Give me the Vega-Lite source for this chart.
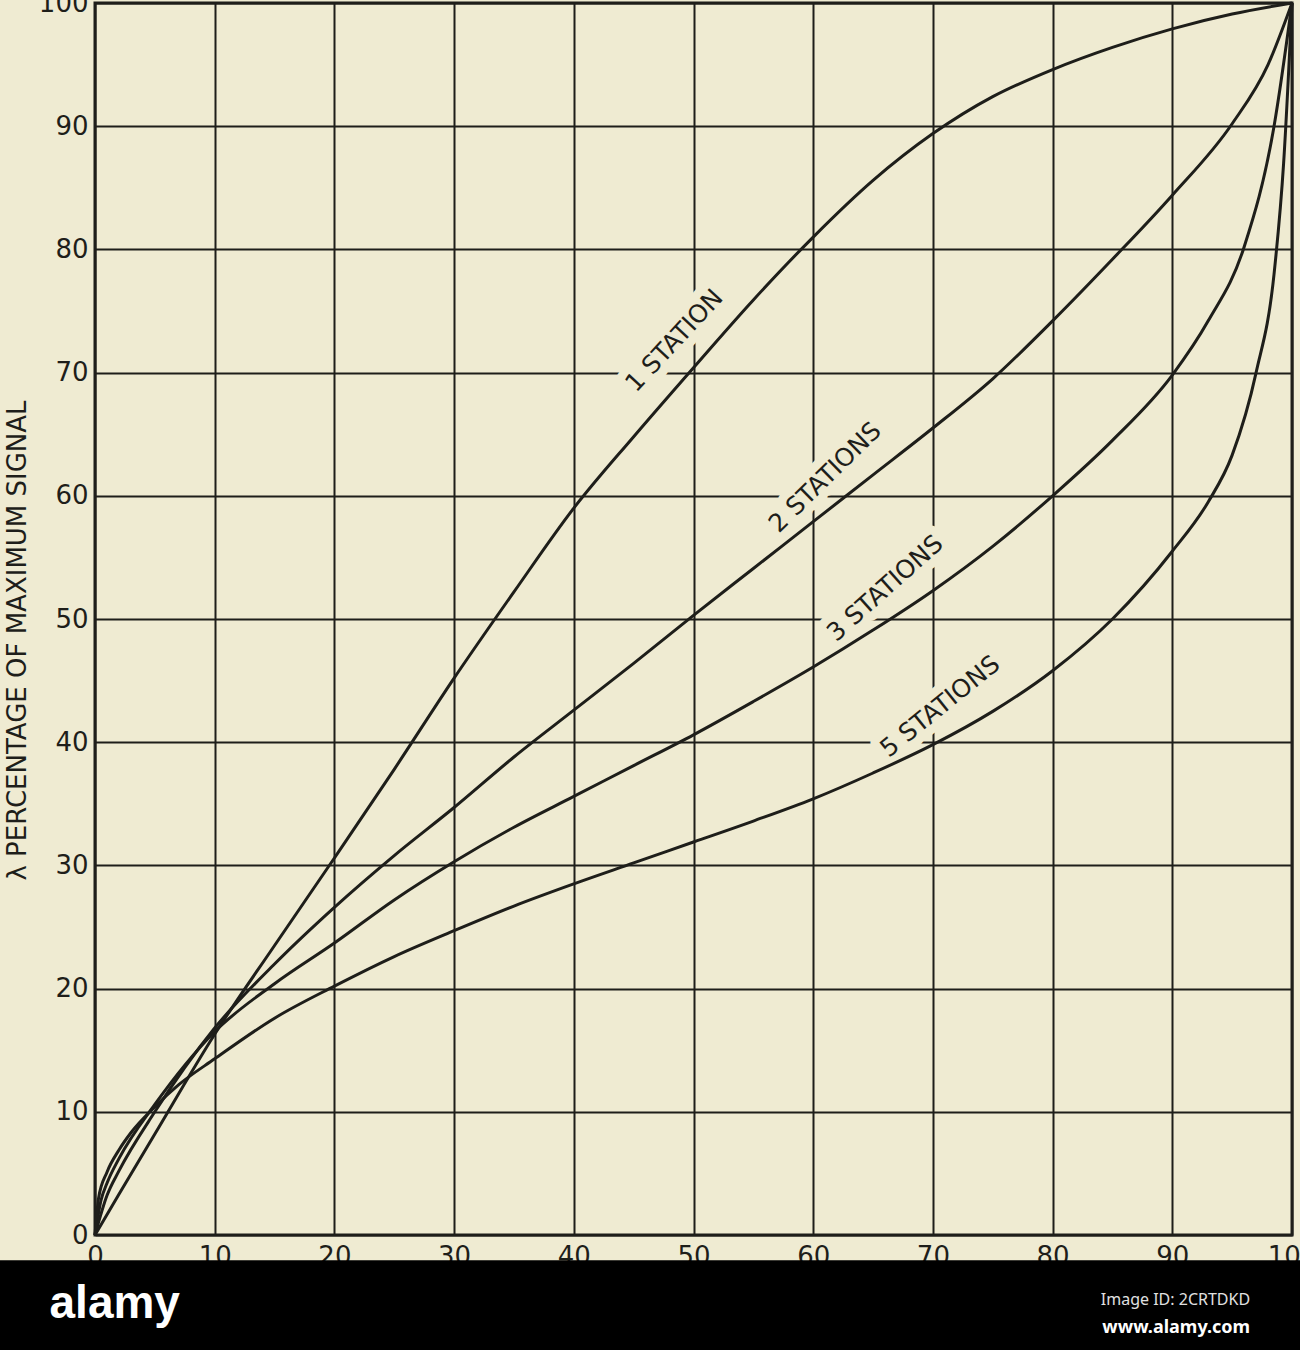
{
  "$schema": "https://vega.github.io/schema/vega-lite/v6.json",
  "width": 1197,
  "height": 1232,
  "autosize": {"type": "none"},
  "padding": {"left": 95, "top": 3, "right": 8, "bottom": 115},
  "background": "#efebd2",
  "config": {
    "view": {"stroke": "#1e1e1a", "strokeWidth": 3},
    "axis": {
      "grid": true, "gridColor": "#1e1e1a", "gridWidth": 2, "gridOpacity": 1,
      "domain": false, "ticks": false,
      "labelFont": "DejaVu Sans", "labelFontSize": 26, "labelColor": "#1e1e1a",
      "labelPadding": 8, "labelFlush": false, "labelOverlap": false, "labelBound": false,
      "tickCount": 10,
      "titleFont": "DejaVu Sans", "titleFontSize": 26, "titleFontWeight": "normal", "titleColor": "#1e1e1a",
      "zindex": 0
    },
    "axisY": {"titleX": -78, "titleY": 637, "titleAngle": 270, "titleBaseline": "middle", "titleAlign": "center", "labelPadding": 7}
  },
  "datasets": {
    "curves": [
      {"station": "1 STATION", "x": 0, "y": 0},
      {"station": "1 STATION", "x": 2, "y": 3.3},
      {"station": "1 STATION", "x": 5, "y": 8.2},
      {"station": "1 STATION", "x": 10, "y": 16.3},
      {"station": "1 STATION", "x": 15, "y": 23.5},
      {"station": "1 STATION", "x": 20, "y": 30.6},
      {"station": "1 STATION", "x": 25, "y": 37.8},
      {"station": "1 STATION", "x": 30, "y": 45.2},
      {"station": "1 STATION", "x": 35, "y": 52.2},
      {"station": "1 STATION", "x": 40, "y": 59},
      {"station": "1 STATION", "x": 45, "y": 64.8},
      {"station": "1 STATION", "x": 50, "y": 70.4},
      {"station": "1 STATION", "x": 55, "y": 75.9},
      {"station": "1 STATION", "x": 60, "y": 81},
      {"station": "1 STATION", "x": 65, "y": 85.6},
      {"station": "1 STATION", "x": 70, "y": 89.4},
      {"station": "1 STATION", "x": 75, "y": 92.4},
      {"station": "1 STATION", "x": 80, "y": 94.6},
      {"station": "1 STATION", "x": 85, "y": 96.4},
      {"station": "1 STATION", "x": 90, "y": 97.9},
      {"station": "1 STATION", "x": 95, "y": 99.1},
      {"station": "1 STATION", "x": 100, "y": 100},
      {"station": "2 STATIONS", "x": 0, "y": 0},
      {"station": "2 STATIONS", "x": 1, "y": 3.2},
      {"station": "2 STATIONS", "x": 2, "y": 5.2},
      {"station": "2 STATIONS", "x": 5, "y": 10},
      {"station": "2 STATIONS", "x": 10, "y": 16.8},
      {"station": "2 STATIONS", "x": 15, "y": 22},
      {"station": "2 STATIONS", "x": 20, "y": 26.6},
      {"station": "2 STATIONS", "x": 25, "y": 30.8},
      {"station": "2 STATIONS", "x": 30, "y": 34.7},
      {"station": "2 STATIONS", "x": 35, "y": 38.8},
      {"station": "2 STATIONS", "x": 40, "y": 42.6},
      {"station": "2 STATIONS", "x": 45, "y": 46.4},
      {"station": "2 STATIONS", "x": 50, "y": 50.3},
      {"station": "2 STATIONS", "x": 55, "y": 54.1},
      {"station": "2 STATIONS", "x": 60, "y": 57.9},
      {"station": "2 STATIONS", "x": 65, "y": 61.7},
      {"station": "2 STATIONS", "x": 70, "y": 65.5},
      {"station": "2 STATIONS", "x": 75, "y": 69.5},
      {"station": "2 STATIONS", "x": 80, "y": 74.2},
      {"station": "2 STATIONS", "x": 85, "y": 79.2},
      {"station": "2 STATIONS", "x": 90, "y": 84.4},
      {"station": "2 STATIONS", "x": 95, "y": 90.2},
      {"station": "2 STATIONS", "x": 98, "y": 95},
      {"station": "2 STATIONS", "x": 100, "y": 100},
      {"station": "3 STATIONS", "x": 0, "y": 0},
      {"station": "3 STATIONS", "x": 0.5, "y": 2.8},
      {"station": "3 STATIONS", "x": 1, "y": 4.2},
      {"station": "3 STATIONS", "x": 2, "y": 6.2},
      {"station": "3 STATIONS", "x": 5, "y": 10.6},
      {"station": "3 STATIONS", "x": 10, "y": 16.5},
      {"station": "3 STATIONS", "x": 15, "y": 20.4},
      {"station": "3 STATIONS", "x": 20, "y": 23.7},
      {"station": "3 STATIONS", "x": 25, "y": 27.2},
      {"station": "3 STATIONS", "x": 30, "y": 30.3},
      {"station": "3 STATIONS", "x": 35, "y": 33.1},
      {"station": "3 STATIONS", "x": 40, "y": 35.6},
      {"station": "3 STATIONS", "x": 45, "y": 38.1},
      {"station": "3 STATIONS", "x": 50, "y": 40.6},
      {"station": "3 STATIONS", "x": 55, "y": 43.3},
      {"station": "3 STATIONS", "x": 60, "y": 46.1},
      {"station": "3 STATIONS", "x": 65, "y": 49.1},
      {"station": "3 STATIONS", "x": 70, "y": 52.3},
      {"station": "3 STATIONS", "x": 75, "y": 55.9},
      {"station": "3 STATIONS", "x": 80, "y": 60},
      {"station": "3 STATIONS", "x": 85, "y": 64.5},
      {"station": "3 STATIONS", "x": 90, "y": 69.8},
      {"station": "3 STATIONS", "x": 93, "y": 74.2},
      {"station": "3 STATIONS", "x": 96, "y": 80.2},
      {"station": "3 STATIONS", "x": 98.5, "y": 90},
      {"station": "3 STATIONS", "x": 100, "y": 100},
      {"station": "5 STATIONS", "x": 0, "y": 0},
      {"station": "5 STATIONS", "x": 0.3, "y": 3},
      {"station": "5 STATIONS", "x": 1, "y": 5.1},
      {"station": "5 STATIONS", "x": 2, "y": 6.9},
      {"station": "5 STATIONS", "x": 3, "y": 8.3},
      {"station": "5 STATIONS", "x": 5, "y": 10.4},
      {"station": "5 STATIONS", "x": 7, "y": 12.2},
      {"station": "5 STATIONS", "x": 10, "y": 14.3},
      {"station": "5 STATIONS", "x": 15, "y": 17.6},
      {"station": "5 STATIONS", "x": 20, "y": 20.2},
      {"station": "5 STATIONS", "x": 25, "y": 22.6},
      {"station": "5 STATIONS", "x": 30, "y": 24.7},
      {"station": "5 STATIONS", "x": 35, "y": 26.7},
      {"station": "5 STATIONS", "x": 40, "y": 28.5},
      {"station": "5 STATIONS", "x": 45, "y": 30.2},
      {"station": "5 STATIONS", "x": 50, "y": 31.9},
      {"station": "5 STATIONS", "x": 55, "y": 33.6},
      {"station": "5 STATIONS", "x": 60, "y": 35.4},
      {"station": "5 STATIONS", "x": 65, "y": 37.5},
      {"station": "5 STATIONS", "x": 70, "y": 39.8},
      {"station": "5 STATIONS", "x": 75, "y": 42.5},
      {"station": "5 STATIONS", "x": 80, "y": 45.8},
      {"station": "5 STATIONS", "x": 85, "y": 50},
      {"station": "5 STATIONS", "x": 90, "y": 55.5},
      {"station": "5 STATIONS", "x": 93, "y": 59.5},
      {"station": "5 STATIONS", "x": 95, "y": 63.3},
      {"station": "5 STATIONS", "x": 97, "y": 70},
      {"station": "5 STATIONS", "x": 98.5, "y": 78},
      {"station": "5 STATIONS", "x": 99.3, "y": 87},
      {"station": "5 STATIONS", "x": 100, "y": 100}
    ],
    "labels": [
      {"station": "1 STATION", "x": 48.4, "y": 72.6},
      {"station": "2 STATIONS", "x": 61.0, "y": 61.5},
      {"station": "3 STATIONS", "x": 66.0, "y": 52.5},
      {"station": "5 STATIONS", "x": 70.6, "y": 42.9}
    ]
  },
  "layer": [
    {
      "data": {"name": "labels"},
      "mark": {"type": "text", "font": "DejaVu Sans", "fontSize": 25, "align": "center", "baseline": "middle", "stroke": "#efebd2", "strokeWidth": 18, "strokeJoin": "round", "fill": "#efebd2"},
      "encoding": {
        "x": {"field": "x", "type": "quantitative", "scale": {"domain": [0, 100], "nice": false}, "axis": {"title": null}},
        "y": {"field": "y", "type": "quantitative", "scale": {"domain": [0, 100], "nice": false}, "axis": {"title": "λ PERCENTAGE OF MAXIMUM SIGNAL"}},
        "text": {"field": "station", "type": "nominal"},
        "angle": {"field": "station", "type": "nominal", "scale": {"domain": ["1 STATION", "2 STATIONS", "3 STATIONS", "5 STATIONS"], "range": [313, 321, 325, 329]}, "legend": null}
      }
    },
    {
      "data": {"name": "curves"},
      "mark": {"type": "line", "interpolate": "monotone", "strokeWidth": 3, "color": "#1e1e1a"},
      "encoding": {
        "x": {"field": "x", "type": "quantitative", "axis": {"title": null}},
        "y": {"field": "y", "type": "quantitative", "axis": {"title": "λ PERCENTAGE OF MAXIMUM SIGNAL"}},
        "detail": {"field": "station", "type": "nominal"}
      }
    },
    {
      "data": {"name": "labels"},
      "mark": {"type": "text", "font": "DejaVu Sans", "fontSize": 25, "align": "center", "baseline": "middle", "fill": "#1e1e1a"},
      "encoding": {
        "x": {"field": "x", "type": "quantitative", "axis": {"title": null}},
        "y": {"field": "y", "type": "quantitative", "axis": {"title": "λ PERCENTAGE OF MAXIMUM SIGNAL"}},
        "text": {"field": "station", "type": "nominal"},
        "angle": {"field": "station", "type": "nominal", "scale": {"domain": ["1 STATION", "2 STATIONS", "3 STATIONS", "5 STATIONS"], "range": [313, 321, 325, 329]}, "legend": null}
      }
    },
    {
      "data": {"values": [{}]},
      "mark": {"type": "rect", "color": "#000000"},
      "encoding": {
        "x": {"datum": -8, "type": "quantitative", "axis": {"title": null}},
        "x2": {"datum": 101},
        "y": {"datum": -2.05, "type": "quantitative", "axis": {"title": "λ PERCENTAGE OF MAXIMUM SIGNAL"}},
        "y2": {"datum": -10}
      }
    },
    {
      "data": {"values": [{}]},
      "mark": {"type": "text", "text": "alamy", "font": "Liberation Sans", "fontWeight": "bold", "fontSize": 46, "align": "left", "baseline": "middle", "fill": "#ffffff"},
      "encoding": {
        "x": {"datum": -3.8, "type": "quantitative", "axis": {"title": null}},
        "y": {"datum": -5.6, "type": "quantitative", "axis": {"title": "λ PERCENTAGE OF MAXIMUM SIGNAL"}}
      }
    },
    {
      "data": {"values": [{}]},
      "mark": {"type": "text", "text": "Image ID: 2CRTDKD", "font": "Noto Sans", "fontSize": 16, "align": "right", "baseline": "middle", "fill": "#e0e0e0"},
      "encoding": {
        "x": {"datum": 96.5, "type": "quantitative", "axis": {"title": null}},
        "y": {"datum": -5.3, "type": "quantitative", "axis": {"title": "λ PERCENTAGE OF MAXIMUM SIGNAL"}}
      }
    },
    {
      "data": {"values": [{}]},
      "mark": {"type": "text", "text": "www.alamy.com", "font": "Noto Sans", "fontWeight": "bold", "fontSize": 18, "align": "right", "baseline": "middle", "fill": "#ffffff"},
      "encoding": {
        "x": {"datum": 96.5, "type": "quantitative", "axis": {"title": null}},
        "y": {"datum": -7.55, "type": "quantitative", "axis": {"title": "λ PERCENTAGE OF MAXIMUM SIGNAL"}}
      }
    }
  ]
}
